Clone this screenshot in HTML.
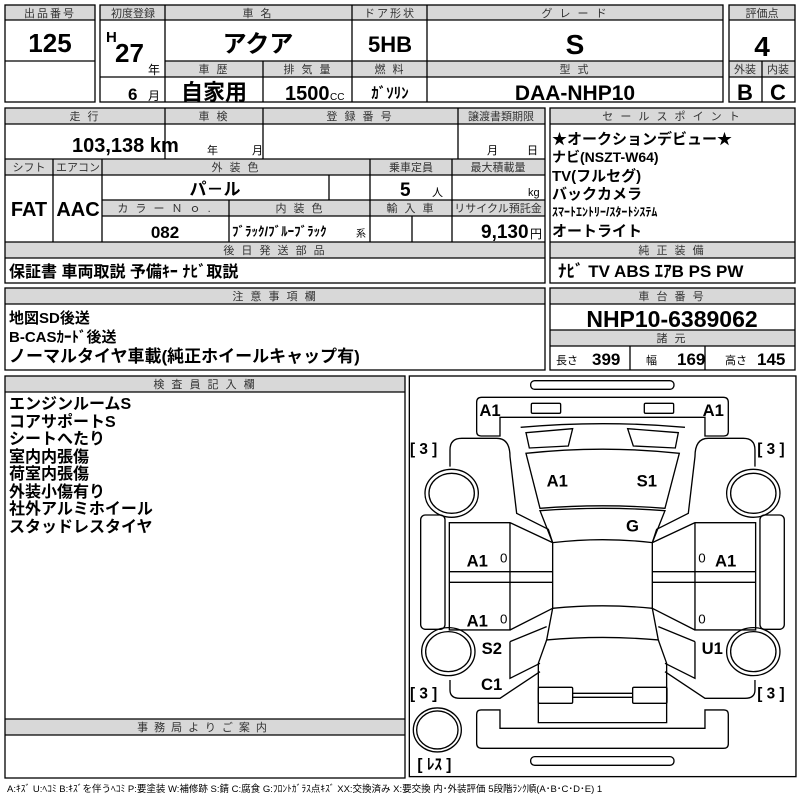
<!DOCTYPE html>
<html><head><meta charset="utf-8"><style>
html,body{margin:0;padding:0;background:#fff}
svg{display:block}
text{font-family:"Liberation Sans","Noto Sans CJK JP",sans-serif;fill:#000}
.h{font-size:11px;fill:#333;text-anchor:middle;letter-spacing:2px}
.v{font-weight:bold;text-anchor:middle;font-family:"Liberation Sans Narrow","Liberation Sans","Noto Sans CJK JP",sans-serif}
.l{font-weight:bold;font-family:"Liberation Sans Narrow","Liberation Sans","Noto Sans CJK JP",sans-serif}
.j{font-weight:bold}
</style></head><body>
<svg width="800" height="800" viewBox="0 0 800 800" xmlns="http://www.w3.org/2000/svg">
<g fill="#d8d8d8">
<rect x="5" y="5" width="90" height="15"/>
<rect x="100" y="5" width="623" height="15"/>
<rect x="165" y="61" width="558" height="16"/>
<rect x="729" y="5" width="66" height="15"/>
<rect x="729" y="61" width="66" height="16"/>
<rect x="5" y="108" width="540" height="16"/>
<rect x="5" y="159" width="540" height="16"/>
<rect x="102" y="200" width="443" height="16"/>
<rect x="5" y="242" width="540" height="16"/>
<rect x="550" y="108" width="245" height="16"/>
<rect x="550" y="242" width="245" height="16"/>
<rect x="5" y="288" width="540" height="16"/>
<rect x="550" y="288" width="245" height="16"/>
<rect x="550" y="330" width="245" height="16"/>
<rect x="5" y="376" width="400" height="16"/>
<rect x="5" y="719" width="400" height="16"/>
</g>
<g fill="none" stroke="#000" stroke-width="1.3">
<rect x="5" y="5" width="90" height="97"/>
<path d="M5 20H95M5 61H95"/>
<rect x="100" y="5" width="623" height="97"/>
<path d="M100 20H723M165 61H723M100 77H723M165 5V102M352 5V102M427 5V102M263 61V102"/>
<rect x="729" y="5" width="66" height="97"/>
<path d="M729 20H795M729 61H795M729 77H795M762 61V102"/>
<rect x="5" y="108" width="540" height="175"/>
<path d="M5 124H545M5 159H545M5 175H545M102 200H545M102 216H545M5 242H545M5 258H545"/>
<path d="M165 108V159M263 108V159M458 108V159M53 159V242M102 159V242M370 159V242M452 159V242M329 175V200M229 200V242M412 216V242"/>
<rect x="550" y="108" width="245" height="175"/>
<path d="M550 124H795M550 242H795M550 258H795"/>
<rect x="5" y="288" width="540" height="82"/>
<path d="M5 304H545"/>
<rect x="550" y="288" width="245" height="82"/>
<path d="M550 304H795M550 330H795M550 346H795M630 346V370M705 346V370"/>
<rect x="5" y="376" width="400" height="402"/>
<path d="M5 392H405M5 719H405M5 735H405"/>
</g>
<text class="h" x="50" y="17">出品番号</text>
<text class="h" x="133" y="17" style="letter-spacing:0">初度登録</text>
<text class="h" x="258" y="17">車 名</text>
<text class="h" x="390" y="17">ドア形状</text>
<text class="h" x="575" y="17">グ レ ー ド</text>
<text class="h" x="762" y="17" style="letter-spacing:0">評価点</text>
<text class="h" x="214" y="73">車 歴</text>
<text class="h" x="308" y="73">排 気 量</text>
<text class="h" x="390" y="73">燃 料</text>
<text class="h" x="575" y="73">型 式</text>
<text class="h" x="745" y="73" style="letter-spacing:0">外装</text>
<text class="h" x="778" y="73" style="letter-spacing:0">内装</text>
<text class="h" x="85" y="120">走 行</text>
<text class="h" x="214" y="120">車 検</text>
<text class="h" x="360" y="120">登 録 番 号</text>
<text class="h" x="501" y="120" style="letter-spacing:0">譲渡書類期限</text>
<text class="h" x="672" y="120">セ ー ル ス ポ イ ン ト</text>
<text class="h" x="29" y="171" style="letter-spacing:0">シフト</text>
<text class="h" x="78" y="171" style="letter-spacing:0">エアコン</text>
<text class="h" x="236" y="171">外 装 色</text>
<text class="h" x="411" y="171" style="letter-spacing:0">乗車定員</text>
<text class="h" x="498" y="171" style="letter-spacing:0">最大積載量</text>
<text class="h" x="165" y="212">カ ラ ー Ｎ ｏ .</text>
<text class="h" x="300" y="212">内 装 色</text>
<text class="h" x="411" y="212">輸 入 車</text>
<text class="h" x="498" y="212" style="letter-spacing:0">リサイクル預託金</text>
<text class="h" x="275" y="254">後 日 発 送 部 品</text>
<text class="h" x="672" y="254">純 正 装 備</text>
<text class="h" x="275" y="300">注 意 事 項 欄</text>
<text class="h" x="672" y="300">車 台 番 号</text>
<text class="h" x="672" y="342">諸 元</text>
<text class="h" x="205" y="388">検 査 員 記 入 欄</text>
<text class="h" x="205" y="731" style="letter-spacing:6px">事務局よりご案内</text>
<text class="v" x="50" y="52" font-size="26">125</text>
<text class="l" x="106" y="42" font-size="15">H</text>
<text class="l" x="115" y="62" font-size="26">27</text>
<text x="148" y="74" font-size="12">年</text>
<text class="l" x="128" y="100" font-size="17">6</text>
<text x="148" y="100" font-size="12">月</text>
<text class="v" x="258" y="52" font-size="24">アクア</text>
<text class="v" x="390" y="52" font-size="22">5HB</text>
<text class="v" x="575" y="54" font-size="28">S</text>
<text class="v" x="762" y="56" font-size="28">4</text>
<text class="v" x="214" y="100" font-size="22">自家用</text>
<text class="l" x="285" y="100" font-size="20">1500</text>
<text x="330" y="100" font-size="10">CC</text>
<text class="v" x="390" y="98" font-size="15">ｶﾞｿﾘﾝ</text>
<text class="v" x="575" y="100" font-size="21">DAA-NHP10</text>
<text class="v" x="745" y="100" font-size="22">B</text>
<text class="v" x="778" y="100" font-size="22">C</text>
<text class="l" x="72" y="152" font-size="20">103,138 km</text>
<text x="207" y="154" font-size="11">年</text>
<text x="252" y="154" font-size="11">月</text>
<text x="487" y="154" font-size="11">月</text>
<text x="527" y="154" font-size="11">日</text>
<text class="v" x="29" y="216" font-size="20">FAT</text>
<text class="v" x="78" y="216" font-size="20">AAC</text>
<text class="v" x="215" y="195" font-size="17">パ－ル</text>
<text class="l" x="400" y="196" font-size="19">5</text>
<text x="432" y="196" font-size="11">人</text>
<text x="528" y="196" font-size="11">kg</text>
<text class="v" x="165" y="238" font-size="17">082</text>
<text class="l" x="232" y="236" font-size="13">ﾌﾞﾗｯｸ/ﾌﾞﾙｰﾌﾞﾗｯｸ</text>
<text x="356" y="237" font-size="10">系</text>
<text class="l" x="481" y="238" font-size="19">9,130</text>
<text x="530" y="238" font-size="12">円</text>
<text class="l" x="552" y="144" font-size="15">★オークションデビュー★</text>
<text class="l" x="552" y="162" font-size="14">ナビ(NSZT-W64)</text>
<text class="l" x="552" y="181" font-size="15">TV(フルセグ)</text>
<text class="l" x="552" y="199" font-size="15">バックカメラ</text>
<text class="l" x="552" y="216" font-size="12">ｽﾏｰﾄｴﾝﾄﾘｰ/ｽﾀｰﾄｼｽﾃﾑ</text>
<text class="l" x="552" y="236" font-size="15">オートライト</text>
<text class="l" x="9" y="277" font-size="16">保証書 車両取説 予備ｷｰ ﾅﾋﾞ取説</text>
<text class="l" x="558" y="277" font-size="17">ﾅﾋﾞ  TV  ABS  ｴｱB  PS  PW</text>
<text class="l" x="9" y="323" font-size="15">地図SD後送</text>
<text class="l" x="9" y="342" font-size="15">B-CASｶｰﾄﾞ後送</text>
<text class="l" x="9" y="362" font-size="17">ノーマルタイヤ車載(純正ホイールキャップ有)</text>
<text class="v" x="672" y="327" font-size="23">NHP10-6389062</text>
<text x="556" y="364" font-size="11">長さ</text>
<text class="l" x="592" y="365" font-size="17">399</text>
<text x="646" y="364" font-size="11">幅</text>
<text class="l" x="677" y="365" font-size="17">169</text>
<text x="725" y="364" font-size="11">高さ</text>
<text class="l" x="757" y="365" font-size="17">145</text>
<g font-size="16">
<text class="j" x="9" y="409">エンジンルームS</text>
<text class="j" x="9" y="427">コアサポートS</text>
<text class="j" x="9" y="444">シートへたり</text>
<text class="j" x="9" y="462">室内内張傷</text>
<text class="j" x="9" y="479">荷室内張傷</text>
<text class="j" x="9" y="497">外装小傷有り</text>
<text class="j" x="9" y="514">社外アルミホイール</text>
<text class="j" x="9" y="532">スタッドレスタイヤ</text>
</g>
<text x="7" y="792" font-size="9.5" fill="#333">A:ｷｽﾞ  U:ﾍｺﾐ  B:ｷｽﾞを伴うﾍｺﾐ  P:要塗装  W:補修跡  S:錆  C:腐食  G:ﾌﾛﾝﾄｶﾞﾗｽ点ｷｽﾞ  XX:交換済み  X:要交換   内･外装評価   5段階ﾗﾝｸ順(A･B･C･D･E) 1</text>
<g transform="translate(400,370) scale(0.3333)">
<g fill="none" stroke="#000" stroke-width="4">
<rect x="28" y="18" width="1160" height="1202"/>
<rect x="392" y="32" width="430" height="26" rx="12"/>
<rect x="392" y="1160" width="430" height="26" rx="12"/>
<path d="M245 82H970Q985 82 985 97V185Q985 198 972 198H915V142H300V198H243Q230 198 230 185V97Q230 82 245 82Z"/>
<rect x="394" y="100" width="88" height="30" rx="4"/>
<rect x="733" y="100" width="88" height="30" rx="4"/>
<path d="M230 1033Q230 1020 243 1020H300V1075H915V1020H972Q985 1020 985 1033V1122Q985 1135 970 1135H245Q230 1135 230 1120Z"/>
<path d="M362 172Q608 150 855 172"/>
<path d="M378 188L518 176L505 228L388 234Z M683 176L835 188L826 234L700 228Z"/>
<path d="M378 250Q608 225 838 250L795 415Q608 400 420 415Z"/>
<path d="M420 422Q608 408 795 422L757 518Q608 500 458 518Z"/>
<path d="M458 518V715Q608 700 757 715V518"/>
<path d="M458 715L440 810Q608 795 775 810L757 715"/>
<path d="M440 810L415 880V1058H800V880L775 810"/>
<rect x="415" y="952" width="103" height="48" rx="4"/>
<rect x="698" y="952" width="103" height="48" rx="4"/>
<path d="M518 970H698M518 982H698"/>
<path d="M150 290V240Q150 205 185 205H290Q330 205 330 260L350 430L445 478L458 518"/>
<path d="M148 458H330V780H148Z M148 605H458M148 637H458M330 458L458 518M330 780L458 715"/>
<path d="M150 930V960Q150 985 180 985H300L420 905 M330 815V925L420 880 M330 815L440 770"/>
<rect x="62" y="435" width="73" height="343" rx="14"/>
<ellipse cx="155" cy="370" rx="80" ry="72"/><ellipse cx="155" cy="370" rx="68" ry="60"/>
<ellipse cx="145" cy="845" rx="80" ry="72"/><ellipse cx="145" cy="845" rx="68" ry="60"/>
<ellipse cx="112" cy="1080" rx="72" ry="66"/><ellipse cx="112" cy="1080" rx="62" ry="57"/>
<path d="M1065 290V240Q1065 205 1030 205H925Q885 205 885 260L865 430L770 478L757 518"/>
<path d="M1067 458H885V780H1067Z M1067 605H757M1067 637H757M885 458L757 518M885 780L757 715"/>
<path d="M1065 930V960Q1065 985 1035 985H915L795 905 M885 815V925L795 880 M885 815L775 770"/>
<rect x="1080" y="435" width="73" height="343" rx="14"/>
<ellipse cx="1060" cy="370" rx="80" ry="72"/><ellipse cx="1060" cy="370" rx="68" ry="60"/>
<ellipse cx="1060" cy="845" rx="80" ry="72"/><ellipse cx="1060" cy="845" rx="68" ry="60"/>
</g>
<g font-size="50" font-weight="bold">
<text x="238" y="138">A1</text><text x="908" y="138">A1</text>
<text x="440" y="350">A1</text><text x="710" y="350">S1</text>
<text x="678" y="485">G</text>
<text x="200" y="590">A1</text><text x="945" y="590">A1</text>
<text x="200" y="770">A1</text>
<text x="245" y="852">S2</text><text x="905" y="852">U1</text>
<text x="243" y="960">C1</text>
</g>
<g font-size="40">
<text x="300" y="578">0</text><text x="895" y="578">0</text>
<text x="300" y="760">0</text><text x="895" y="760">0</text>
</g>
<g font-size="46" font-weight="bold" fill="#333">
<text x="30" y="252">[ 3 ]</text><text x="1072" y="252">[ 3 ]</text>
<text x="30" y="985">[ 3 ]</text><text x="1072" y="985">[ 3 ]</text>
<text x="52" y="1198">[ ﾚｽ ]</text>
</g>
</g>
</svg>
</body></html>
